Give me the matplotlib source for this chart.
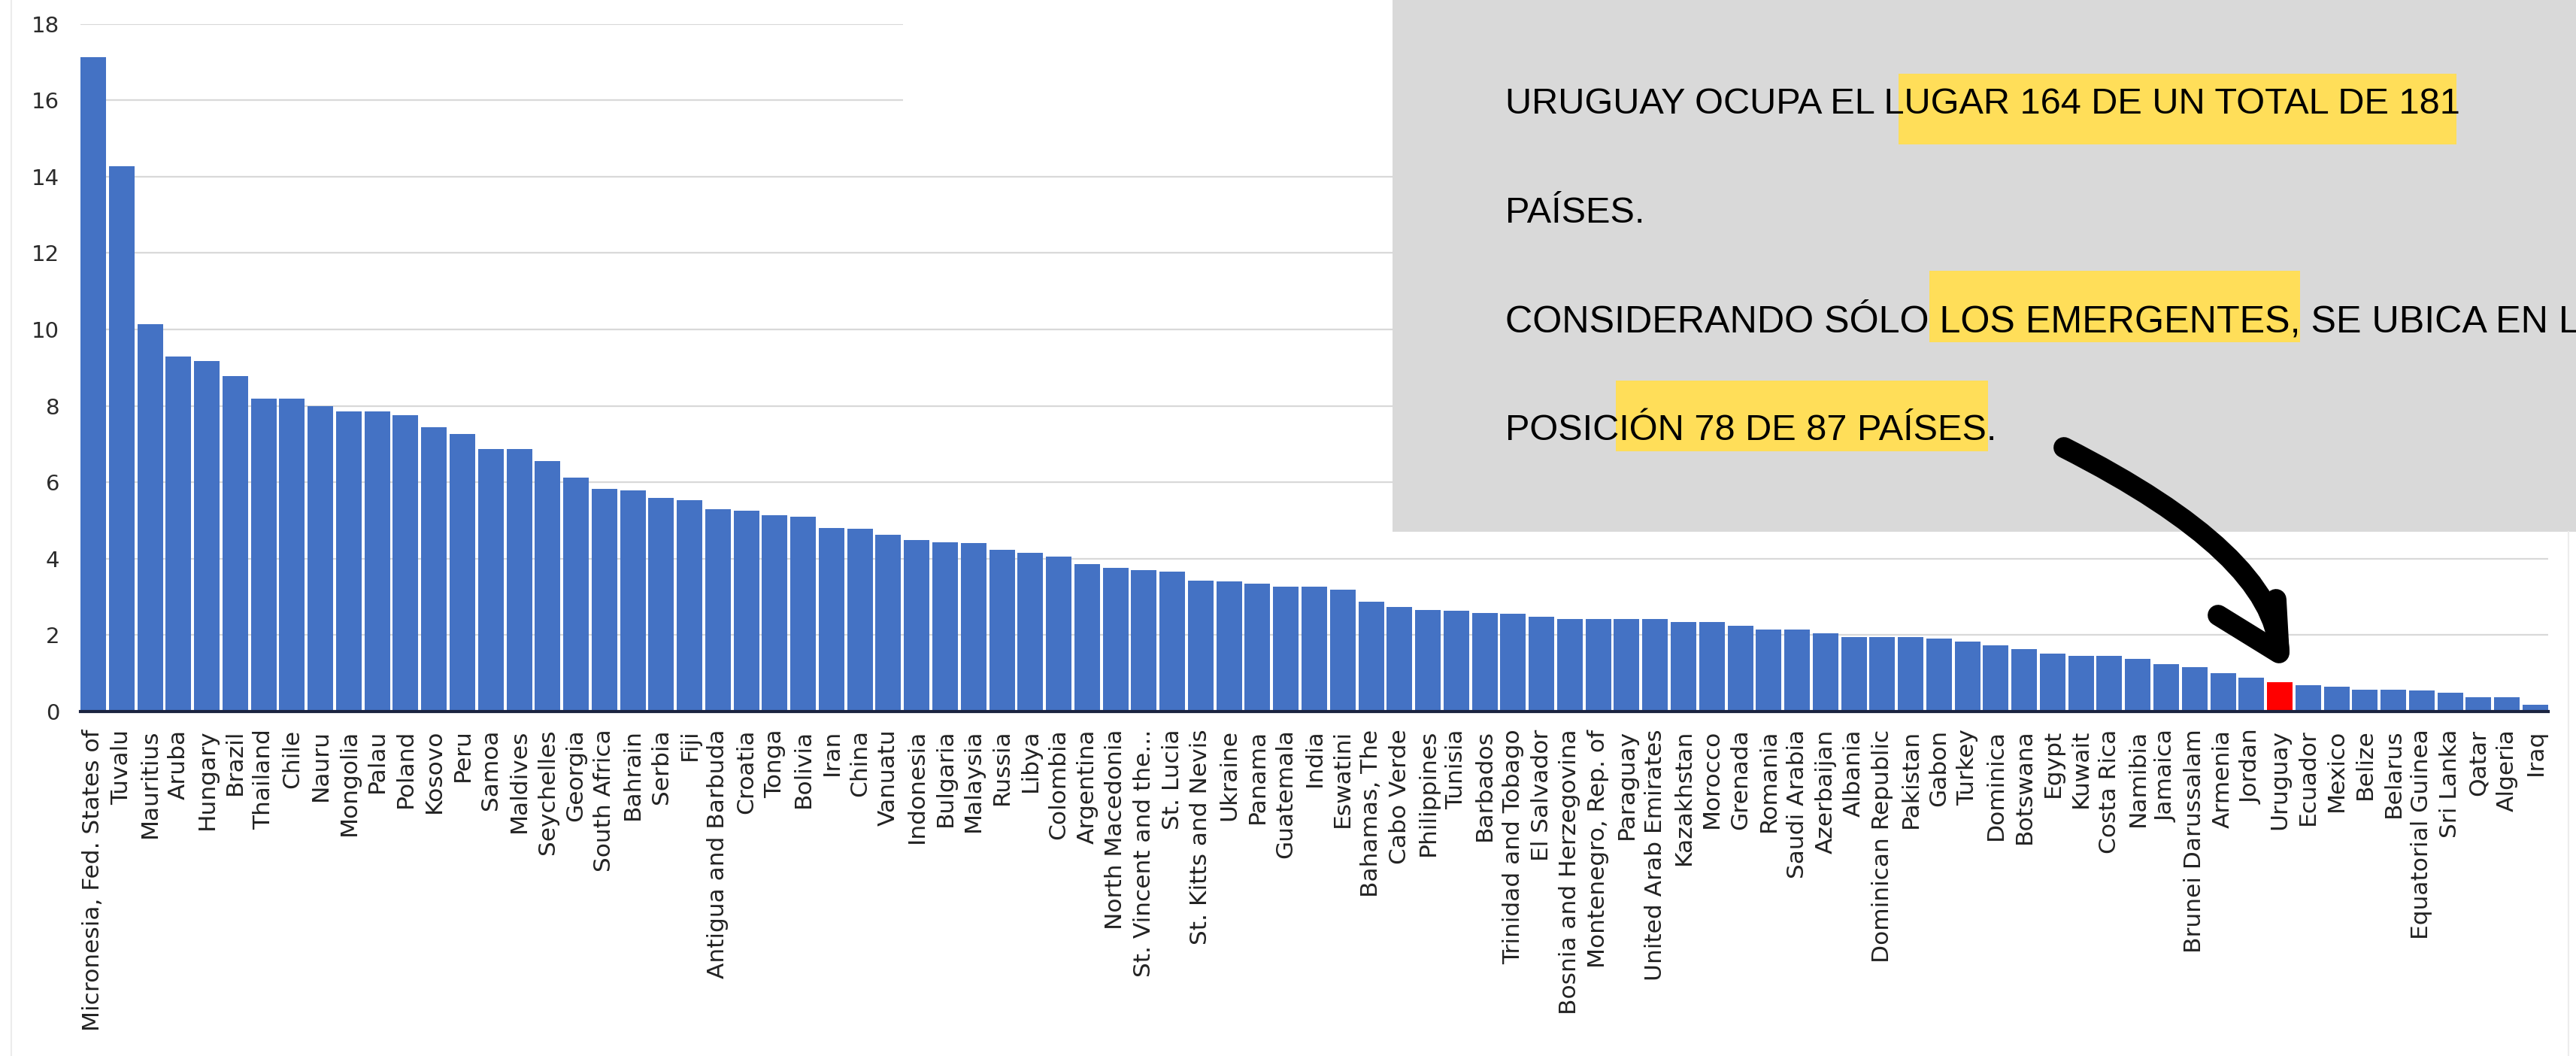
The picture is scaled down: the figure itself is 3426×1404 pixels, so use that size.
import matplotlib.pyplot as plt
from matplotlib.patches import Rectangle, PathPatch
from matplotlib.path import Path

countries = [
    "Micronesia, Fed. States of", "Tuvalu", "Mauritius", "Aruba", "Hungary", "Brazil",
    "Thailand", "Chile", "Nauru", "Mongolia", "Palau", "Poland", "Kosovo", "Peru",
    "Samoa", "Maldives", "Seychelles", "Georgia", "South Africa", "Bahrain", "Serbia",
    "Fiji", "Antigua and Barbuda", "Croatia", "Tonga", "Bolivia", "Iran", "China",
    "Vanuatu", "Indonesia", "Bulgaria", "Malaysia", "Russia", "Libya", "Colombia",
    "Argentina", "North Macedonia", "St. Vincent and the...", "St. Lucia",
    "St. Kitts and Nevis", "Ukraine", "Panama", "Guatemala", "India", "Eswatini",
    "Bahamas, The", "Cabo Verde", "Philippines", "Tunisia", "Barbados",
    "Trinidad and Tobago", "El Salvador", "Bosnia and Herzegovina", "Montenegro, Rep. of",
    "Paraguay", "United Arab Emirates", "Kazakhstan", "Morocco", "Grenada", "Romania",
    "Saudi Arabia", "Azerbaijan", "Albania", "Dominican Republic", "Pakistan", "Gabon",
    "Turkey", "Dominica", "Botswana", "Egypt", "Kuwait", "Costa Rica", "Namibia",
    "Jamaica", "Brunei Darussalam", "Armenia", "Jordan", "Uruguay", "Ecuador", "Mexico",
    "Belize", "Belarus", "Equatorial Guinea", "Sri Lanka", "Qatar", "Algeria", "Iraq",
]

values = [
    17.13, 14.28, 10.14, 9.30, 9.18, 8.79, 8.19, 8.19, 7.99, 7.86, 7.86, 7.76, 7.45, 7.26,
    6.88, 6.88, 6.56, 6.12, 5.83, 5.78, 5.60, 5.53, 5.30, 5.25, 5.13, 5.10, 4.81, 4.78,
    4.63, 4.48, 4.43, 4.41, 4.24, 4.16, 4.05, 3.86, 3.76, 3.70, 3.66, 3.43, 3.41, 3.35,
    3.26, 3.26, 3.19, 2.87, 2.73, 2.66, 2.63, 2.57, 2.55, 2.49, 2.42, 2.42, 2.42, 2.42,
    2.34, 2.34, 2.25, 2.14, 2.14, 2.04, 1.95, 1.95, 1.94, 1.91, 1.83, 1.74, 1.64, 1.51,
    1.45, 1.45, 1.38, 1.24, 1.16, 1.00, 0.88, 0.77, 0.69, 0.64, 0.58, 0.58, 0.55, 0.50,
    0.38, 0.38, 0.17,
]

highlight = "Uruguay"
yticks = list(range(0, 19, 2))

note_lines = [
    "URUGUAY OCUPA EL LUGAR 164 DE UN TOTAL DE 181",
    "PAÍSES.",
    "CONSIDERANDO SÓLO LOS EMERGENTES, SE UBICA EN LA",
    "POSICIÓN 78 DE 87 PAÍSES.",
]

W, H = 3426, 1404
fig = plt.figure(figsize=(W / 100, H / 100), dpi=100)

# main bar chart (positions in pixels of the reference)
ax = fig.add_axes([107 / W, 1 - 946 / H, (3389 - 107) / W, (946 - 31.7) / H])
colors = ['#FF0000' if c == highlight else '#4472C4' for c in countries]
x = list(range(len(countries)))
ax.bar(x, values, width=0.9, color=colors)
ax.set_xlim(-0.45, len(countries) - 0.55)
ax.set_ylim(0, 18)
ax.set_yticks(yticks)
ax.set_axisbelow(True)
ax.grid(axis='y', color='#d9d9d9', lw=1.6)
for s in ['left', 'right', 'top']:
    ax.spines[s].set_visible(False)
ax.spines['bottom'].set_color('#1b2440')
ax.spines['bottom'].set_linewidth(3)
ax.set_xticks(x)
ax.set_xticklabels(countries, rotation=90, fontsize=22.5, color='#222222')
ax.tick_params(axis='both', length=0)
ax.tick_params(axis='x', pad=17)
ax.tick_params(axis='y', labelsize=21, pad=20, labelcolor='#2b2b2b')

# overlay in pixel coordinates for the annotation
ov = fig.add_axes([0, 0, 1, 1])
ov.set_xlim(0, W)
ov.set_ylim(H, 0)
ov.axis('off')
ov.patch.set_visible(False)

ov.plot([15, 15], [0, H], color='#ececec', lw=1.5)
ov.plot([3416, 3416], [707, H], color='#ececec', lw=1.5)
ov.add_patch(Rectangle((1201, 0), 651, 200, fc='white', ec='none'))
ov.add_patch(Rectangle((1852, 0), W - 1852, 707, fc='#d9d9d9', ec='none'))

marks = [(2525, 98, 742, 94), (2566, 360, 493, 95), (2149, 506, 495, 94)]
for mx, my, mw, mh in marks:
    ov.add_patch(Rectangle((mx, my), mw, mh, fc='#ffde59', ec='none'))

baselines = [151, 296, 441, 585]
sizes = [35, 35, 36.2, 35]
for line, yb, fs in zip(note_lines, baselines, sizes):
    ov.text(2002, yb, line, fontsize=fs, family=['Liberation Sans', 'DejaVu Sans'],
            color='black', ha='left', va='baseline')

# hand-drawn style arrow pointing at Uruguay
shaft = Path([(2745, 595), (3025, 737), (3031, 866)],
             [Path.MOVETO, Path.CURVE3, Path.CURVE3])
ov.add_patch(PathPatch(shaft, fc='none', ec='black', lw=20, capstyle='round'))
ov.plot([2950, 3031, 3027], [818, 868, 797], color='black', lw=20,
        solid_capstyle='round', solid_joinstyle='round')

fig.savefig('out.png', dpi=100)
